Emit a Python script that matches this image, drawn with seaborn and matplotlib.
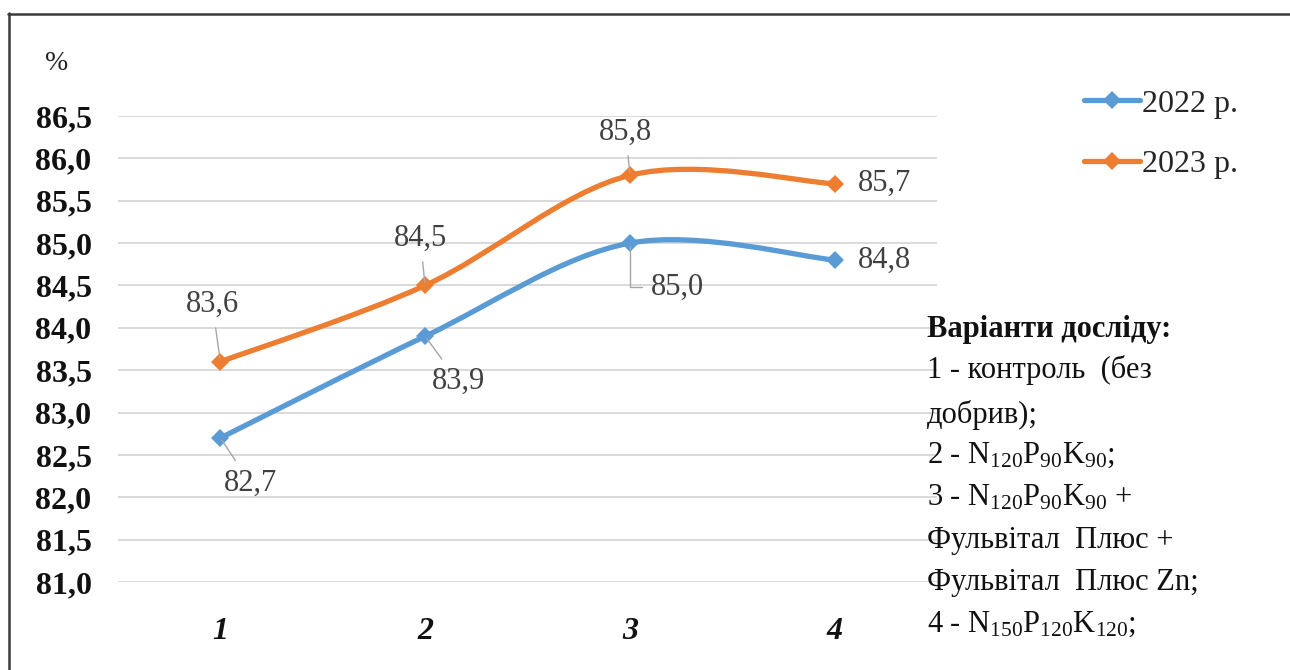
import numpy as np
import pandas as pd
import matplotlib
matplotlib.use("Agg")
import matplotlib.pyplot as plt
from matplotlib.path import Path
from matplotlib.patches import PathPatch
from matplotlib.lines import Line2D
from matplotlib.ticker import FuncFormatter
import seaborn as sns

# --- data -------------------------------------------------------------
variants = ["1", "2", "3", "4"]
years = ["2022 р.", "2023 р."]
values_2022 = [82.7, 83.9, 85.0, 84.8]
values_2023 = [83.6, 84.5, 85.8, 85.7]
y_ticks = [81.0, 81.5, 82.0, 82.5, 83.0, 83.5, 84.0, 84.5, 85.0, 85.5, 86.0, 86.5]

legend_title_lines = [
    "Варіанти досліду:",
    "1 - контроль  (без",
    "добрив);",
    r"2 - $\mathrm{N_{120}P_{90}K_{90}}$;",
    r"3 - $\mathrm{N_{120}P_{90}K_{90}}$ +",
    "Фульвітал  Плюс +",
    "Фульвітал  Плюс Zn;",
    r"4 - $\mathrm{N_{150}P_{120}K_{120}}$;",
]

colors = {"2022 р.": "#5B9BD5", "2023 р.": "#ED7D31"}

df = pd.DataFrame({
    "variant": variants * 2,
    "value": values_2022 + values_2023,
    "year": [years[0]] * 4 + [years[1]] * 4,
})

# --- style ------------------------------------------------------------
sns.set_style("white")
plt.rcParams["font.family"] = ["Liberation Serif", "DejaVu Serif"]
plt.rcParams["mathtext.fontset"] = "custom"
plt.rcParams["mathtext.rm"] = "Liberation Serif"
plt.rcParams["mathtext.it"] = "Liberation Serif:italic"
plt.rcParams["mathtext.bf"] = "Liberation Serif:bold"

W, H = 1290, 670
fig = plt.figure(figsize=(W / 100, H / 100), dpi=100)
ax = fig.add_axes([118 / W, 88 / H, 819 / W, 466 / H])

LW = 3.8
MS = 9.5


def smooth_path(ys):
    """Excel-style smoothed line through the points (cubic Bezier segments)."""
    pts = [(float(i), float(v)) for i, v in enumerate(ys)]
    n = len(pts)
    verts = [pts[0]]
    codes = [Path.MOVETO]
    for i in range(n - 1):
        p0 = pts[max(i - 1, 0)]
        p1 = pts[i]
        p2 = pts[i + 1]
        p3 = pts[min(i + 2, n - 1)]
        c1 = (p1[0] + (p2[0] - p0[0]) / 6, p1[1] + (p2[1] - p0[1]) / 6)
        c2 = (p2[0] - (p3[0] - p1[0]) / 6, p2[1] - (p3[1] - p1[1]) / 6)
        verts += [c1, c2, p2]
        codes += [Path.CURVE4] * 3
    return Path(verts, codes)


# smooth connecting curves
for year, vals in zip(years, [values_2022, values_2023]):
    ax.add_patch(PathPatch(smooth_path(vals), facecolor="none",
                           edgecolor=colors[year], lw=LW,
                           capstyle="round", joinstyle="round", zorder=3))

# point markers
sns.lineplot(data=df, x="variant", y="value", hue="year", palette=colors,
             marker="D", markersize=MS, markeredgewidth=0, linestyle="",
             legend=False, ax=ax, zorder=4, sort=False)

# axes
ax.set_xlim(-0.5, 3.5)
ax.set_ylim(81.0, 86.5)
ax.set_yticks(y_ticks)
ax.yaxis.set_major_formatter(FuncFormatter(lambda v, _: f"{v:.1f}".replace(".", ",")))
ax.set_xlabel("")
ax.set_ylabel("")
for s in ax.spines.values():
    s.set_visible(False)
ax.grid(axis="y", color="#d9d9d9", lw=1.4)
ax.grid(axis="x", visible=False)
ax.set_axisbelow(True)
ax.tick_params(axis="y", length=0, pad=19, labelsize=23, labelcolor="#111111")
ax.tick_params(axis="x", length=0, pad=25, labelsize=23, labelcolor="#111111")
for t in ax.get_yticklabels():
    t.set_fontweight("bold")
for t in ax.get_xticklabels():
    t.set_fontweight("bold")
    t.set_fontstyle("italic")

# data labels with leader lines
lead = dict(arrowstyle="-", color="#a6a6a6", lw=1.0, shrinkA=4, shrinkB=2)
label_offsets_2022 = [(30, -45), (33, -45), (48, -44), (50, 0)]
label_offsets_2023 = [(-8, 57), (-5, 47), (-4, 43), (50, 0)]
leader_2022 = [True, True, "elbow", False]
leader_2023 = [True, True, True, False]

for vals, offs, leads in [(values_2022, label_offsets_2022, leader_2022),
                          (values_2023, label_offsets_2023, leader_2023)]:
    for i, (v, off, ld) in enumerate(zip(vals, offs, leads)):
        kw = {}
        if ld is True:
            kw["arrowprops"] = lead
        elif ld == "elbow":
            kw["arrowprops"] = dict(lead, connectionstyle="angle,angleA=0,angleB=90,rad=0",
                                    relpos=(0.0, 0.5))
        ax.annotate(f"{v:.1f}".replace(".", ","), xy=(i, v), xytext=off,
                    textcoords="offset pixels", ha="center", va="center",
                    fontsize=22, color="#404040", zorder=5, **kw)

# unit label
fig.text(57 / W, 1 - 64 / H, "%", ha="center", va="center", fontsize=20, color="#222222")

# legend
handles = [Line2D([], [], color=colors[y], lw=LW, marker="D", markersize=MS,
                  markeredgewidth=0) for y in years]
ax.legend(handles, years, loc="center left", bbox_to_anchor=(1084 / W, 1 - 134 / H),
          bbox_transform=fig.transFigure, frameon=False, fontsize=23,
          handlelength=1.75, handletextpad=0.05, labelspacing=0.97, borderpad=0,
          borderaxespad=0)

# description of the experiment variants
baselines = [337, 378, 423, 463, 505, 548, 590, 632]
for i, (line, yb) in enumerate(zip(legend_title_lines, baselines)):
    fig.text(927 / W, 1 - yb / H, line, ha="left", va="baseline", fontsize=22,
             fontweight="bold" if i == 0 else "normal", color="#111111")

# frame
fig.add_artist(Line2D([8.5 / W, 8.5 / W], [0, 1 - 13 / H], transform=fig.transFigure,
                      color="#3a3a3a", lw=1.8))
fig.add_artist(Line2D([8 / W, 1], [1 - 13.5 / H, 1 - 13.5 / H], transform=fig.transFigure,
                      color="#3a3a3a", lw=1.8))

fig.savefig("out.png", dpi=100)
